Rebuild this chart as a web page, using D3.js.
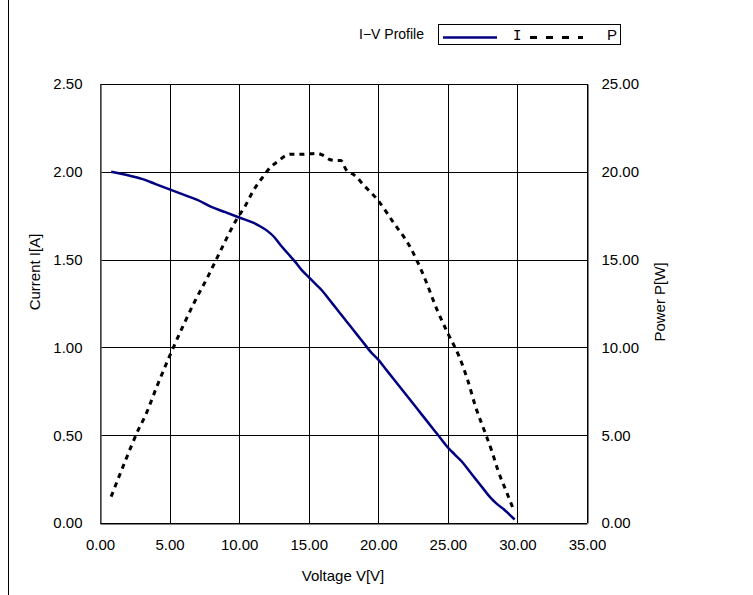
<!DOCTYPE html>
<html>
<head>
<meta charset="utf-8">
<script src="https://cdn.jsdelivr.net/npm/d3@7"></script>
<style>
  html, body { margin: 0; padding: 0; background: #fff; }
  svg { font-family: "Liberation Sans", Arial, sans-serif; }
</style>
</head>
<body>
<svg id="chart" width="753" height="595"></svg>
<script>
// I-V profile data
const voltsI = [0.8, 2, 3, 4, 5, 6, 7, 8, 9, 10, 11, 11.5, 12, 12.5, 13, 13.5, 14, 14.5, 15, 15.5,
    16, 16.5, 17, 17.5, 18, 18.5, 19, 19.5, 20, 20.5, 21, 22, 23, 24, 24.5, 25, 25.5, 26, 26.5,
    27, 27.5, 28, 28.5, 29, 29.4, 29.8];
const current = [2.00, 1.98, 1.96, 1.93, 1.90, 1.87, 1.84, 1.80, 1.77, 1.74, 1.71, 1.69, 1.665, 1.63,
    1.58, 1.535, 1.49, 1.44, 1.40, 1.36, 1.32, 1.27, 1.22, 1.17, 1.12, 1.07, 1.02, 0.97, 0.93, 0.88,
    0.83, 0.73, 0.63, 0.53, 0.48, 0.43, 0.39, 0.35, 0.30, 0.25, 0.20, 0.15, 0.11, 0.08, 0.05, 0.02];

const voltsP = [0.8, 1.8, 2.75, 3.25, 4.1, 5.0, 5.9, 6.8, 7.8, 8.6, 9.9, 10.4, 11.0, 11.7, 12.3, 12.8,
    13.3, 13.7, 14.5, 15.6, 16.0, 16.5, 16.8, 17.3, 17.7, 18.3, 19.0, 19.9, 21.1, 22.3, 23.2, 24.3,
    25.0, 25.8, 26.4, 27.0, 27.7, 28.2, 28.6, 29.2, 29.7];
const power = [1.5, 3.5, 5.3, 6.1, 7.8, 9.5, 11.1, 12.6, 14.1, 15.4, 17.4, 18.0, 18.9, 19.7, 20.3, 20.6,
    20.9, 21.0, 21.0, 21.05, 20.95, 20.7, 20.65, 20.65, 20.1, 19.8, 19.2, 18.45, 17.1, 15.7, 14.2, 12.0,
    10.8, 9.5, 8.2, 6.6, 5.1, 4.0, 3.0, 1.8, 0.8];

const xTicks = [0, 5, 10, 15, 20, 25, 30, 35];
const iTicks = [0, 0.5, 1, 1.5, 2, 2.5];
const pTicks = [0, 5, 10, 15, 20, 25];

const svg = d3.select('#chart');

// chart area border (only the left edge falls inside the picture)
svg.append('line')
    .attr('x1', 8.5).attr('x2', 8.5).attr('y1', 0).attr('y2', 595)
    .attr('stroke', '#000');

const plot = { left: 100, right: 587, top: 84, bottom: 523 };

const x = d3.scaleLinear().domain([0, 35]).range([plot.left, plot.right]);
const yI = d3.scaleLinear().domain([0, 2.5]).range([plot.bottom, plot.top]);
const yP = d3.scaleLinear().domain([0, 25]).range([plot.bottom, plot.top]);

// Grid lines
svg.append('g')
    .selectAll('line')
    .data(xTicks)
    .join('line')
    .attr('x1', d => Math.round(x(d)) + 0.5).attr('x2', d => Math.round(x(d)) + 0.5)
    .attr('y1', plot.top).attr('y2', plot.bottom)
    .attr('stroke', '#000').attr('stroke-width', 1);

svg.append('g')
    .selectAll('line')
    .data(iTicks)
    .join('line')
    .attr('x1', plot.left).attr('x2', plot.right)
    .attr('y1', d => Math.round(yI(d)) + 0.5).attr('y2', d => Math.round(yI(d)) + 0.5)
    .attr('stroke', '#000').attr('stroke-width', 1);

// Axes
svg.append('g')
    .attr('transform', `translate(0,${plot.bottom + 0.5})`)
    .call(d3.axisBottom(x).tickValues(xTicks).tickSize(0).tickPadding(16).tickFormat(d3.format('.2f')))
    .call(ax => ax.select('.domain').attr('stroke', '#000'))
    .call(ax => ax.selectAll('text').attr('font-size', '15px').attr('font-family', null).attr('fill', '#000'));

svg.append('g')
    .attr('transform', `translate(${plot.left + 0.5},0)`)
    .call(d3.axisLeft(yI).tickValues(iTicks).tickSize(0).tickPadding(18).tickFormat(d3.format('.2f')))
    .call(ax => ax.select('.domain').attr('stroke', '#555').attr('stroke-width', 1.5))
    .call(ax => ax.selectAll('text').attr('font-size', '15px').attr('font-family', null).attr('fill', '#000'));

svg.append('g')
    .attr('transform', `translate(${plot.right + 0.5},0)`)
    .call(d3.axisRight(yP).tickValues(pTicks).tickSize(0).tickPadding(14).tickFormat(d3.format('.2f')))
    .call(ax => ax.select('.domain').attr('stroke', '#000'))
    .call(ax => ax.selectAll('text').attr('font-size', '15px').attr('font-family', null).attr('fill', '#000'));

// Axis titles
svg.append('text')
    .attr('x', 343).attr('y', 581)
    .attr('text-anchor', 'middle').attr('font-size', '15px')
    .text('Voltage V[V]');

svg.append('text')
    .attr('transform', 'translate(40,272) rotate(-90)')
    .attr('text-anchor', 'middle').attr('font-size', '15px')
    .text('Current I[A]');

svg.append('text')
    .attr('transform', 'translate(665,302) rotate(-90)')
    .attr('text-anchor', 'middle').attr('font-size', '15px')
    .text('Power P[W]');

// Lines
const lineI = d3.line()
    .x((d, i) => x(voltsI[i]))
    .y(d => yI(d))
    .curve(d3.curveMonotoneX);

const lineP = d3.line()
    .x((d, i) => x(voltsP[i]))
    .y(d => yP(d))
    .curve(d3.curveMonotoneX);

svg.append('path')
    .datum(power)
    .attr('fill', 'none')
    .attr('stroke', '#000')
    .attr('stroke-width', 3)
    .attr('stroke-dasharray', '5 5')
    .attr('d', lineP);

svg.append('path')
    .datum(current)
    .attr('fill', 'none')
    .attr('stroke', '#000080')
    .attr('stroke-width', 2.5)
    .attr('d', lineI);

// Legend
svg.append('text')
    .attr('x', 424).attr('y', 39)
    .attr('text-anchor', 'end').attr('font-size', '14px')
    .text('I\u2212V Profile');

const lg = svg.append('g');
lg.append('rect')
    .attr('x', 438.5).attr('y', 24.5)
    .attr('width', 182).attr('height', 20)
    .attr('fill', '#fff').attr('stroke', '#000');
lg.append('line')
    .attr('x1', 443).attr('x2', 497).attr('y1', 37.5).attr('y2', 37.5)
    .attr('stroke', '#000080').attr('stroke-width', 2.5);
lg.append('text')
    .attr('x', 513).attr('y', 40)
    .style('font-family', '"DejaVu Sans Mono", monospace').attr('font-size', '14px')
    .text('I');
lg.append('line')
    .attr('x1', 530).attr('x2', 583).attr('y1', 37.5).attr('y2', 37.5)
    .attr('stroke', '#000').attr('stroke-width', 3)
    .attr('stroke-dasharray', '7 9');
lg.append('text')
    .attr('x', 607).attr('y', 40)
    .attr('font-size', '15px')
    .text('P');
</script>
</body>
</html>
